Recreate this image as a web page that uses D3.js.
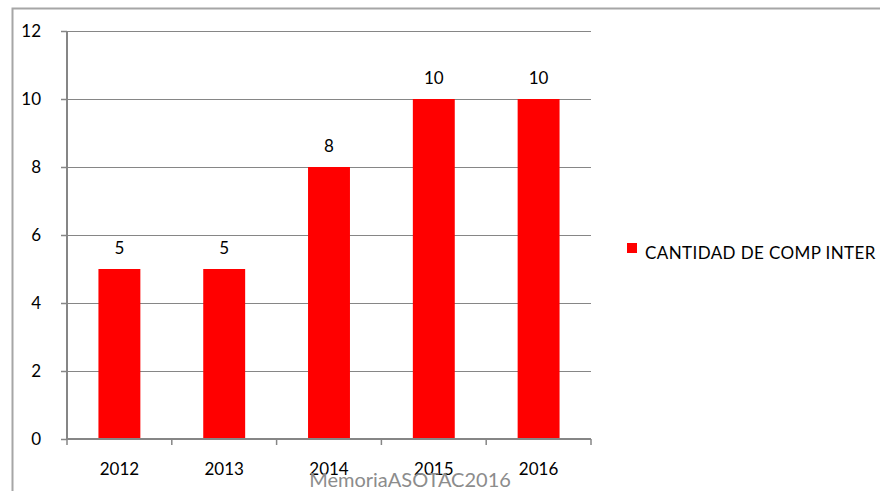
<!DOCTYPE html>
<html><head><meta charset="utf-8">
<script src="https://cdn.jsdelivr.net/npm/d3@7"></script>
<style>body{margin:0;background:#fff}svg{display:block;font-family:Lato,"Open Sans",sans-serif}</style>
</head><body>
<svg id="c" width="880" height="491"></svg>
<script>
const categories = ["2012","2013","2014","2015","2016"];
const values = [5,5,8,10,10];
const yTicks = [0,2,4,6,8,10,12];
const seriesName = "CANTIDAD DE COMP INTER";
const watermark = "MemoriaASOTAC2016";

const svg = d3.select("#c");
const m = {l:67,r:591,t:31,b:439};
const x = d3.scaleBand().domain(categories).range([m.l,m.r]).paddingInner(0.6).paddingOuter(0.3);
const y = d3.scaleLinear().domain([0,12]).range([m.b,m.t]);
const fs = 17;

// frame
svg.append("path").attr("d","M12.5,491V8.5H880").attr("fill","none").attr("stroke","#a6a6a6").attr("stroke-width",2);

// gridlines
svg.append("g").selectAll("line").data(yTicks.filter(d=>d>0)).join("line")
  .attr("x1",m.l).attr("x2",m.r).attr("y1",d=>Math.round(y(d))+0.5).attr("y2",d=>Math.round(y(d))+0.5)
  .attr("stroke","#868686").attr("stroke-width",1);

// y axis
const ya = svg.append("g").attr("transform",`translate(${m.l},0)`)
  .call(d3.axisLeft(y).tickValues(yTicks).tickSize(6).tickPadding(20));
ya.select(".domain").attr("stroke","#868686").attr("stroke-width",2).attr("d",`M0,${m.t}V${m.b}`);
ya.selectAll(".tick line").attr("stroke","#868686").attr("stroke-width",1.5);
ya.selectAll(".tick text").attr("font-size",fs).attr("fill","#000").attr("font-family","Lato,sans-serif");

// bars
svg.append("g").selectAll("rect").data(values).join("rect")
  .attr("x",(d,i)=>x(categories[i])).attr("width",x.bandwidth())
  .attr("y",d=>y(d)).attr("height",d=>y(0)-y(d)).attr("fill","#ff0000");

// x axis
const step = x.step();
const xa = svg.append("g").attr("transform",`translate(0,${m.b})`);
xa.append("line").attr("x1",m.l).attr("x2",m.r).attr("y1",0).attr("y2",0).attr("stroke","#868686").attr("stroke-width",2);
const bounds = categories.map((c,i)=>m.l+i*step).concat([m.r]);
xa.selectAll("line.t").data(bounds).join("line").attr("class","t")
  .attr("x1",d=>d).attr("x2",d=>d).attr("y1",0).attr("y2",6).attr("stroke","#868686").attr("stroke-width",1.5);
xa.selectAll("text").data(categories).join("text")
  .attr("x",d=>x(d)+x.bandwidth()/2).attr("y",36).attr("text-anchor","middle")
  .attr("font-size",fs).attr("fill","#000").text(d=>d);

// data labels
svg.append("g").selectAll("text").data(values).join("text")
  .attr("x",(d,i)=>x(categories[i])+x.bandwidth()/2).attr("y",d=>y(d)-15)
  .attr("text-anchor","middle").attr("font-size",fs).attr("fill","#000").text(d=>d);

// legend
svg.append("rect").attr("x",627).attr("y",243).attr("width",10).attr("height",10).attr("fill","#ff0000");
svg.append("text").attr("x",645).attr("y",259).attr("font-size",fs).attr("fill","#000").attr("letter-spacing",0.4).text(seriesName);

// watermark
svg.append("text").attr("x",410).attr("y",487).attr("text-anchor","middle").attr("font-size",20).attr("fill","#8c8c8c").text(watermark);
</script>
</body></html>
